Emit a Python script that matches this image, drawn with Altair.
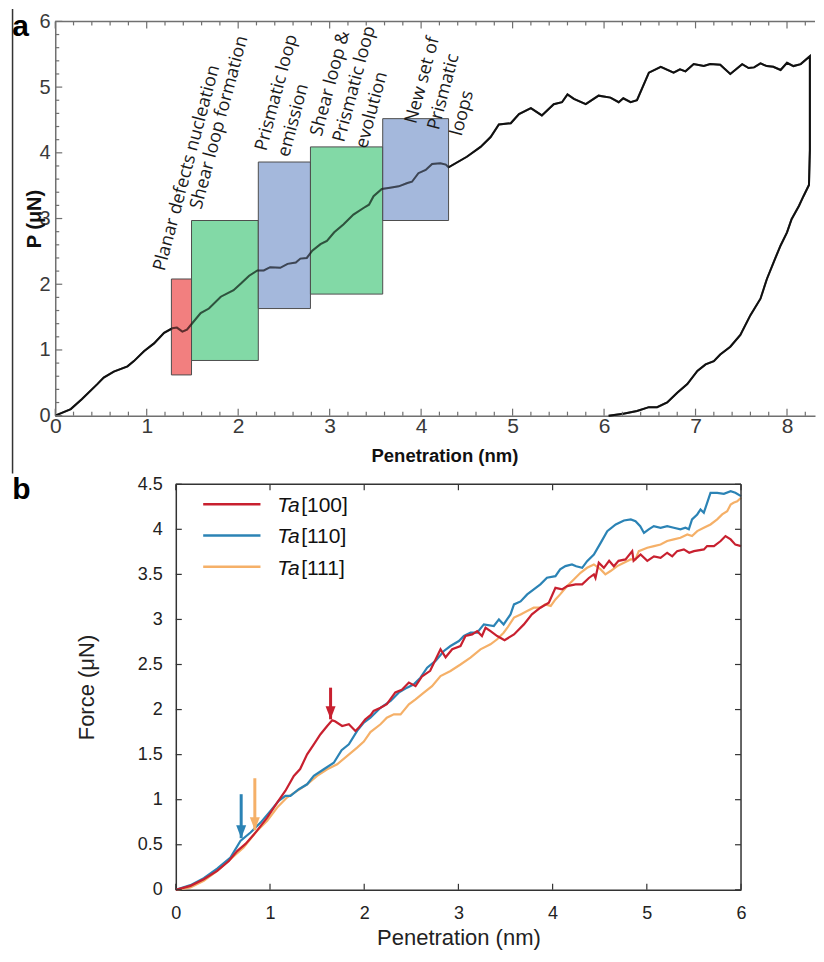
import altair as alt
import pandas as pd

# ---------------- Panel (a) data ----------------
a_pen = [0.00, 0.17, 0.29, 0.46, 0.53, 0.64, 0.79, 0.86, 0.97, 1.08, 1.19, 1.28, 1.33, 1.39, 1.44,
         1.50, 1.59, 1.68, 1.81, 1.95, 2.03, 2.12, 2.21, 2.28, 2.35, 2.46, 2.54, 2.63, 2.68, 2.75,
         2.81, 2.90, 2.97, 3.05, 3.15, 3.26, 3.37, 3.43, 3.48, 3.57, 3.66, 3.755, 3.85, 3.90, 3.97,
         4.05, 4.12, 4.21, 4.27, 4.30, 4.50, 4.65, 4.76, 4.85, 4.98, 5.07, 5.20, 5.32, 5.45, 5.54,
         5.60, 5.67, 5.80, 5.94, 6.07, 6.16, 6.21, 6.29, 6.36, 6.49, 6.62, 6.76, 6.83, 6.89, 6.98,
         7.09, 7.16, 7.27, 7.38, 7.51, 7.58, 7.64, 7.71, 7.78, 7.85, 7.93, 8.00, 8.07, 8.15, 8.25,
         8.25, 8.24, 8.18, 8.13, 8.05, 8.00, 7.93, 7.87, 7.78, 7.71, 7.60, 7.49, 7.38, 7.27, 7.20,
         7.11, 7.02, 6.91, 6.80, 6.69, 6.58, 6.49, 6.36, 6.21, 6.05]
a_force = [0.00, 0.10, 0.25, 0.48, 0.58, 0.67, 0.75, 0.83, 0.98, 1.10, 1.26, 1.33, 1.34, 1.28, 1.31,
           1.41, 1.56, 1.63, 1.81, 1.91, 2.01, 2.13, 2.21, 2.21, 2.26, 2.25, 2.31, 2.33, 2.39, 2.40,
           2.51, 2.61, 2.66, 2.79, 2.91, 3.06, 3.16, 3.21, 3.34, 3.45, 3.47, 3.49, 3.54, 3.56, 3.69,
           3.74, 3.83, 3.84, 3.82, 3.78, 3.94, 4.09, 4.24, 4.43, 4.45, 4.59, 4.68, 4.57, 4.74, 4.77,
           4.89, 4.82, 4.74, 4.87, 4.84, 4.77, 4.83, 4.77, 4.80, 5.22, 5.31, 5.22, 5.27, 5.24, 5.35,
           5.32, 5.35, 5.34, 5.20, 5.35, 5.29, 5.30, 5.36, 5.32, 5.31, 5.26, 5.37, 5.32, 5.35, 5.47,
           4.04, 3.51, 3.34, 3.19, 2.99, 2.79, 2.59, 2.39, 2.08, 1.78, 1.53, 1.23, 1.05, 0.93, 0.83,
           0.78, 0.68, 0.48, 0.35, 0.20, 0.13, 0.13, 0.07, 0.03, 0.00]

box_x0 = [1.27, 1.49, 2.22, 2.79, 3.58]
box_x1 = [1.49, 2.22, 2.79, 3.58, 4.30]
box_y0 = [0.62, 0.84, 1.63, 1.85, 2.97]
box_y1 = [2.08, 2.97, 3.86, 4.09, 4.52]
box_kind = ["nucleation", "shear", "prismatic", "shear", "prismatic"]
box_kinds = ["nucleation", "shear", "prismatic"]
box_colors = ["#f06868", "#6cd296", "#94abd6"]

ann_label = ["Planar defects nucleation",
             "Shear loop formation",
             "Prismatic loop\nemission",
             "Shear loop &\nPrismatic loop\nevolution",
             "New set of\nPrismatic\nloops"]
ann_x = [1.195, 1.597, 2.306, 2.91, 3.945]
ann_y = [2.19, 3.13, 4.017, 4.24, 4.43]

a_xticks = [0, 1, 2, 3, 4, 5, 6, 7, 8]
a_yticks = [0, 1, 2, 3, 4, 5, 6]
a_xminor = [round(i * 0.2, 1) for i in range(42) if i % 5]
a_yminor = [round(i * 0.2, 1) for i in range(31) if i % 5]

# ---------------- Panel (b) data ----------------
b100_x = [0, 0.156, 0.297, 0.439, 0.563, 0.651, 0.74, 0.85, 0.97, 1.076, 1.164, 1.253, 1.32, 1.394,
          1.465, 1.536, 1.607, 1.66, 1.69, 1.766, 1.837, 1.907, 1.943, 2.01, 2.07, 2.10, 2.173, 2.24,
          2.33, 2.40, 2.474, 2.545, 2.615, 2.70, 2.81, 2.864, 2.934, 3.022, 3.075, 3.146, 3.199, 3.25,
          3.288, 3.341, 3.412, 3.49, 3.59, 3.695, 3.78, 3.87, 3.96, 4.03, 4.10, 4.155, 4.244, 4.314,
          4.385, 4.438, 4.455, 4.49, 4.544, 4.60, 4.65, 4.70, 4.774, 4.845, 4.86, 4.934, 5.005, 5.076,
          5.146, 5.216, 5.27, 5.322, 5.393, 5.45, 5.50, 5.606, 5.64, 5.713, 5.784, 5.835, 5.89, 5.94, 6.0]
b100_y = [0, 0.044, 0.118, 0.21, 0.32, 0.43, 0.51, 0.64, 0.80, 0.968, 1.10, 1.264, 1.34, 1.504,
          1.615, 1.726, 1.818, 1.88, 1.87, 1.818, 1.837, 1.763, 1.80, 1.89, 1.94, 1.985, 2.02, 2.06,
          2.19, 2.22, 2.30, 2.26, 2.37, 2.43, 2.67, 2.58, 2.67, 2.705, 2.816, 2.834, 2.87, 2.816,
          2.908, 2.87, 2.816, 2.77, 2.834, 2.945, 3.056, 3.13, 3.186, 3.35, 3.333, 3.37, 3.389, 3.389,
          3.46, 3.50, 3.46, 3.63, 3.573, 3.65, 3.59, 3.65, 3.666, 3.758, 3.65, 3.72, 3.65, 3.70,
          3.684, 3.74, 3.70, 3.758, 3.777, 3.74, 3.758, 3.777, 3.814, 3.814, 3.87, 3.925, 3.888, 3.83, 3.814]

b110_x = [0, 0.156, 0.297, 0.439, 0.58, 0.686, 0.793, 0.9, 1.005, 1.093, 1.164, 1.217, 1.306, 1.394,
          1.465, 1.571, 1.677, 1.76, 1.837, 1.925, 1.996, 2.066, 2.173, 2.28, 2.366, 2.455, 2.527,
          2.597, 2.668, 2.757, 2.846, 2.916, 3.005, 3.058, 3.13, 3.199, 3.27, 3.376, 3.43, 3.48, 3.553,
          3.59, 3.66, 3.73, 3.80, 3.87, 3.94, 4.03, 4.08, 4.136, 4.205, 4.25, 4.314, 4.366, 4.438,
          4.51, 4.58, 4.67, 4.757, 4.83, 4.88, 4.93, 4.97, 5.02, 5.074, 5.146, 5.216, 5.286, 5.357,
          5.41, 5.446, 5.48, 5.535, 5.57, 5.605, 5.676, 5.747, 5.818, 5.89, 5.94, 6.0]
b110_y = [0, 0.052, 0.129, 0.236, 0.358, 0.543, 0.636, 0.746, 0.876, 0.987, 1.042, 1.042, 1.116, 1.171,
          1.264, 1.338, 1.41, 1.55, 1.615, 1.763, 1.855, 1.91, 2.02, 2.095, 2.188, 2.243, 2.28,
          2.354, 2.465, 2.54, 2.65, 2.705, 2.76, 2.816, 2.853, 2.853, 2.945, 2.927, 3.0, 2.945, 3.056,
          3.167, 3.2, 3.278, 3.333, 3.389, 3.463, 3.48, 3.555, 3.592, 3.61, 3.59, 3.573, 3.647, 3.72,
          3.85, 3.98, 4.054, 4.098, 4.11, 4.09, 4.035, 3.96, 4.0, 4.035, 4.017, 4.035, 4.017, 4.0,
          4.017, 4.0, 4.11, 4.165, 4.22, 4.183, 4.405, 4.405, 4.394, 4.423, 4.405, 4.368]

b111_x = [0, 0.156, 0.297, 0.439, 0.58, 0.72, 0.846, 0.97, 1.076, 1.18, 1.288, 1.394, 1.5, 1.607,
          1.713, 1.82, 1.925, 1.996, 2.066, 2.173, 2.24, 2.315, 2.386, 2.474, 2.545, 2.633, 2.72,
          2.81, 2.916, 3.022, 3.128, 3.234, 3.34, 3.412, 3.48, 3.52, 3.59, 3.66, 3.73, 3.80, 3.87,
          3.92, 3.98, 4.03, 4.08, 4.155, 4.225, 4.296, 4.366, 4.438, 4.51, 4.56, 4.615, 4.686, 4.757,
          4.827, 4.88, 4.915, 5.005, 5.076, 5.146, 5.216, 5.286, 5.357, 5.43, 5.48, 5.535, 5.605,
          5.676, 5.747, 5.80, 5.853, 5.89, 5.92, 5.96, 6.0]
b111_y = [0, 0.026, 0.10, 0.21, 0.34, 0.47, 0.636, 0.765, 0.913, 1.024, 1.098, 1.171, 1.264, 1.338,
          1.393, 1.486, 1.578, 1.645, 1.75, 1.837, 1.91, 1.947, 1.947, 2.058, 2.114, 2.188, 2.26,
          2.372, 2.428, 2.50, 2.576, 2.668, 2.724, 2.78, 2.853, 2.908, 3.02, 3.056, 3.093, 3.13, 3.13,
          3.167, 3.15, 3.222, 3.278, 3.37, 3.444, 3.518, 3.573, 3.61, 3.555, 3.50, 3.537, 3.592, 3.63,
          3.666, 3.666, 3.758, 3.795, 3.814, 3.832, 3.87, 3.888, 3.906, 3.943, 3.925, 3.98, 4.017,
          4.054, 4.11, 4.165, 4.2, 4.276, 4.294, 4.31, 4.35]

series_names = ["[100]", "[110]", "[111]"]
series_colors = ["#c8202f", "#2b83b5", "#f5b068"]

arrow_series = ["[100]", "[110]", "[111]"]
arrow_x = [1.643, 0.694, 0.839]
arrow_top = [2.243, 1.061, 1.238]
arrow_tip = [1.892, 0.573, 0.662]

b_xticks = [0, 1, 2, 3, 4, 5, 6]
b_yticks = [0, 0.5, 1, 1.5, 2, 2.5, 3, 3.5, 4, 4.5]

# ---------------- layout constants ----------------
W_A, H_A = 760, 394.4
W_B, H_B = 686, 405.7
XB0 = 120.6
FRAME_A = "#707070"
FRAME_B = "#333333"
FONT = "Liberation Sans"
NOVIEW = alt.ViewBackground(stroke="transparent", strokeOpacity=0)

xa = alt.Scale(domain=[0, W_A / 91.5], nice=False, zero=False)
ya = alt.Scale(domain=[0, 6], nice=False, zero=False)
xb = alt.Scale(domain=[0, 6], range=[XB0, W_B], nice=False, zero=False)
yb = alt.Scale(domain=[0, 4.5], nice=False, zero=False)


def xticks(values, scale, y0, y1, color):
    d = pd.DataFrame({"v": values})
    return alt.Chart(d).mark_rule(color=color, strokeWidth=1.2).encode(
        x=alt.X("v:Q", scale=scale, axis=None), y=alt.value(y0), y2=alt.value(y1))


def yticks(values, scale, x0, x1, color):
    d = pd.DataFrame({"v": values})
    return alt.Chart(d).mark_rule(color=color, strokeWidth=1.2).encode(
        y=alt.Y("v:Q", scale=scale, axis=None), x=alt.value(x0), x2=alt.value(x1))


# ---------------- Panel (a) ----------------
df_a = pd.DataFrame({"pen": a_pen, "force": a_force, "idx": list(range(len(a_pen)))})
df_box = pd.DataFrame({"x0": box_x0, "x1": box_x1, "y0": box_y0, "y1": box_y1, "kind": box_kind})
df_ann = pd.DataFrame({"x": ann_x, "y": ann_y, "label": ann_label})
df_one = pd.DataFrame({"k": [0]})

line_a = alt.Chart(df_a).mark_line(color="#111111", strokeWidth=2).encode(
    x=alt.X("pen:Q", scale=xa, axis=alt.Axis(
        orient="bottom", values=a_xticks, format="d", ticks=False, tickSize=0, labelPadding=0,
        labelFontSize=21, labelColor="#3a3a3a", labelFlush=False, grid=False, domain=True,
        domainColor=FRAME_A, domainWidth=1.5, title="Penetration (nm)", titleFontSize=18.5,
        titleFontWeight="bold", titleColor="#111111", titleX=389.3, titleY=45.5,
        titleBaseline="alphabetic", titleAlign="center")),
    y=alt.Y("force:Q", scale=ya, axis=alt.Axis(
        orient="left", values=a_yticks, format="d", ticks=False, tickSize=0, labelPadding=5,
        labelFontSize=20, labelColor="#3a3a3a", labelFlush=False, grid=False, domain=True,
        domainColor=FRAME_A, domainWidth=1.5, title="P (μN)", titleFontSize=20,
        titleFontWeight="bold", titleColor="#111111", titleX=-21, titleY=H_A / 2,
        titleAngle=270, titleAlign="center", titleBaseline="middle")),
    order=alt.Order("idx:Q"),
)

rects = alt.Chart(df_box).mark_rect(fillOpacity=0.85, stroke="#4d4d4d", strokeWidth=1).encode(
    x=alt.X("x0:Q", scale=xa, axis=None),
    x2="x1:Q",
    y=alt.Y("y0:Q", scale=ya, axis=None),
    y2="y1:Q",
    color=alt.Color("kind:N", scale=alt.Scale(domain=box_kinds, range=box_colors), legend=None),
)

line_a_over = alt.Chart(df_a).mark_line(color="#111111", strokeWidth=2, opacity=0.6).encode(
    x=alt.X("pen:Q", scale=xa, axis=None),
    y=alt.Y("force:Q", scale=ya, axis=None),
    order=alt.Order("idx:Q"),
)

ann = alt.Chart(df_ann).mark_text(
    angle=285, align="left", baseline="alphabetic", lineBreak="\n", lineHeight=23.5,
    font="Open Sans", fontSize=18, color="#1a1a1a").encode(
    x=alt.X("x:Q", scale=xa, axis=None),
    y=alt.Y("y:Q", scale=ya, axis=None),
    text="label:N",
)

top_frame_a = alt.Chart(df_one).mark_rule(color=FRAME_A, strokeWidth=1.5).encode(
    x=alt.value(0), x2=alt.value(W_A), y=alt.value(0))

ticks_a = [
    xticks(a_xticks, xa, H_A, H_A - 7, FRAME_A),
    xticks(a_xminor, xa, H_A, H_A - 4, FRAME_A),
    xticks(a_xticks, xa, 0, 7, FRAME_A),
    xticks(a_xminor, xa, 0, 4, FRAME_A),
    yticks(a_yticks, ya, 0, 7, FRAME_A),
    yticks(a_yminor, ya, 0, 4, FRAME_A),
]

side_rule = alt.Chart(df_one).mark_rule(color="#333333", strokeWidth=1.5).encode(
    x=alt.value(-42.7), y=alt.value(-12.3), y2=alt.value(452.25))
label_a = alt.Chart(df_one).mark_text(
    text="a", font=FONT, fontSize=30, fontWeight="bold", align="left",
    baseline="alphabetic", color="#000000").encode(x=alt.value(-43), y=alt.value(14.7))

panel_a = alt.layer(line_a, rects, line_a_over, ann, top_frame_a, *ticks_a, side_rule,
                    label_a).resolve_axis(x="independent", y="independent").properties(
    width=W_A, height=H_A, view=NOVIEW)

# ---------------- Panel (b) ----------------
color_b = alt.Scale(domain=series_names, range=series_colors)

df_b = pd.concat([
    pd.DataFrame({"pen": b100_x, "force": b100_y, "series": "[100]"}),
    pd.DataFrame({"pen": b110_x, "force": b110_y, "series": "[110]"}),
    pd.DataFrame({"pen": b111_x, "force": b111_y, "series": "[111]"}),
], ignore_index=True)
df_arrow = pd.DataFrame({"series": arrow_series, "x": arrow_x, "top": arrow_top, "tip": arrow_tip})
df_leg = pd.DataFrame({"series": series_names, "row": [0, 1, 2]})

line_111 = alt.Chart(df_b).transform_filter(alt.datum.series == "[111]").mark_line(strokeWidth=2.2).encode(
    x=alt.X("pen:Q", scale=xb, axis=alt.Axis(
        orient="bottom", values=b_xticks, format="d", ticks=False, tickSize=0, labelPadding=15,
        labelFontSize=18, labelColor="#222222", labelFlush=False, grid=False, domain=True,
        domainColor=FRAME_B, domainWidth=1.5, title="Penetration (nm)", titleFontSize=22,
        titleFontWeight="normal", titleColor="#222222", titleX=(XB0 + W_B) / 2, titleY=55,
        titleBaseline="alphabetic", titleAlign="center")),
    y=alt.Y("force:Q", scale=yb, axis=alt.Axis(
        orient="left", offset=-XB0, values=b_yticks, format="~g", ticks=False, tickSize=0,
        labelPadding=13.5, labelFontSize=18, labelColor="#222222", labelFlush=False, grid=False,
        domain=True, domainColor=FRAME_B, domainWidth=1.5, title="Force (μN)", titleFontSize=22,
        titleFontWeight="normal", titleColor="#222222", titleX=-89.3, titleY=H_B / 2,
        titleAngle=270, titleAlign="center", titleBaseline="middle")),
    color=alt.Color("series:N", scale=color_b, legend=None),
)
line_110 = alt.Chart(df_b).transform_filter(alt.datum.series == "[110]").mark_line(strokeWidth=2.2).encode(
    x=alt.X("pen:Q", scale=xb, axis=None),
    y=alt.Y("force:Q", scale=yb, axis=None),
    color=alt.Color("series:N", scale=color_b, legend=None),
)
line_100 = alt.Chart(df_b).transform_filter(alt.datum.series == "[100]").mark_line(strokeWidth=2.2).encode(
    x=alt.X("pen:Q", scale=xb, axis=None),
    y=alt.Y("force:Q", scale=yb, axis=None),
    color=alt.Color("series:N", scale=color_b, legend=None),
)

top_frame_b = alt.Chart(df_one).mark_rule(color=FRAME_B, strokeWidth=1.5).encode(
    x=alt.value(XB0), x2=alt.value(W_B), y=alt.value(0))
right_frame_b = alt.Chart(df_one).mark_rule(color=FRAME_B, strokeWidth=1.5).encode(
    x=alt.value(W_B), y=alt.value(0), y2=alt.value(H_B))

ticks_b = [
    xticks(b_xticks, xb, H_B, H_B - 6, FRAME_B),
    xticks(b_xticks, xb, 0, 6, FRAME_B),
    yticks(b_yticks, yb, XB0, XB0 + 6, FRAME_B),
    yticks(b_yticks, yb, W_B, W_B - 6, FRAME_B),
]

stems = alt.Chart(df_arrow).mark_rule(strokeWidth=3).encode(
    x=alt.X("x:Q", scale=xb, axis=None),
    y=alt.Y("top:Q", scale=yb, axis=None),
    y2="tip:Q",
    color=alt.Color("series:N", scale=color_b, legend=None),
)
heads = alt.Chart(df_arrow).mark_point(
    shape="M-1,-1.3L1,-1.3L0,1.3Z", filled=True, size=100, opacity=1, yOffset=-6.5).encode(
    x=alt.X("x:Q", scale=xb, axis=None),
    y=alt.Y("tip:Q", scale=yb, axis=None),
    color=alt.Color("series:N", scale=color_b, legend=None),
)

leg_lines = alt.Chart(df_leg).transform_calculate(ly="20 + 31.3 * datum.row").mark_rule(
    strokeWidth=2.5).encode(
    x=alt.value(148), x2=alt.value(205.3),
    y=alt.Y("ly:Q", scale=None),
    color=alt.Color("series:N", scale=color_b, legend=None),
)
leg_ta = alt.Chart(df_leg).transform_calculate(ty="21.7 + 31.3 * datum.row").mark_text(
    text="Ta", font=FONT, fontStyle="italic", fontSize=21, align="left", baseline="middle",
    color="#111111").encode(x=alt.value(222), y=alt.Y("ty:Q", scale=None))
leg_idx = alt.Chart(df_leg).transform_calculate(ty="21.7 + 31.3 * datum.row").mark_text(
    font=FONT, fontSize=21, align="left", baseline="middle", color="#111111").encode(
    x=alt.value(246), y=alt.Y("ty:Q", scale=None), text="series:N")

label_b = alt.Chart(df_one).mark_text(
    text="b", font=FONT, fontSize=30, fontWeight="bold", align="left",
    baseline="alphabetic", color="#000000").encode(x=alt.value(-43), y=alt.value(14.7))

panel_b = alt.layer(line_111, line_110, line_100, top_frame_b, right_frame_b, *ticks_b, stems,
                    heads, leg_lines, leg_ta, leg_idx, label_b).resolve_axis(
    x="independent", y="independent").properties(width=W_B, height=H_B, view=NOVIEW)

chart = alt.vconcat(panel_a, panel_b, spacing=0).resolve_scale(color="independent").properties(
    padding={"left": 3.25, "top": -0.75, "right": 0, "bottom": 1}
).configure_view(stroke="transparent", strokeOpacity=0).configure_axis(
    grid=False, labelFont=FONT, titleFont=FONT
).configure(font=FONT)

chart.save("out.html", embed_options={"renderer": "svg", "actions": False})
